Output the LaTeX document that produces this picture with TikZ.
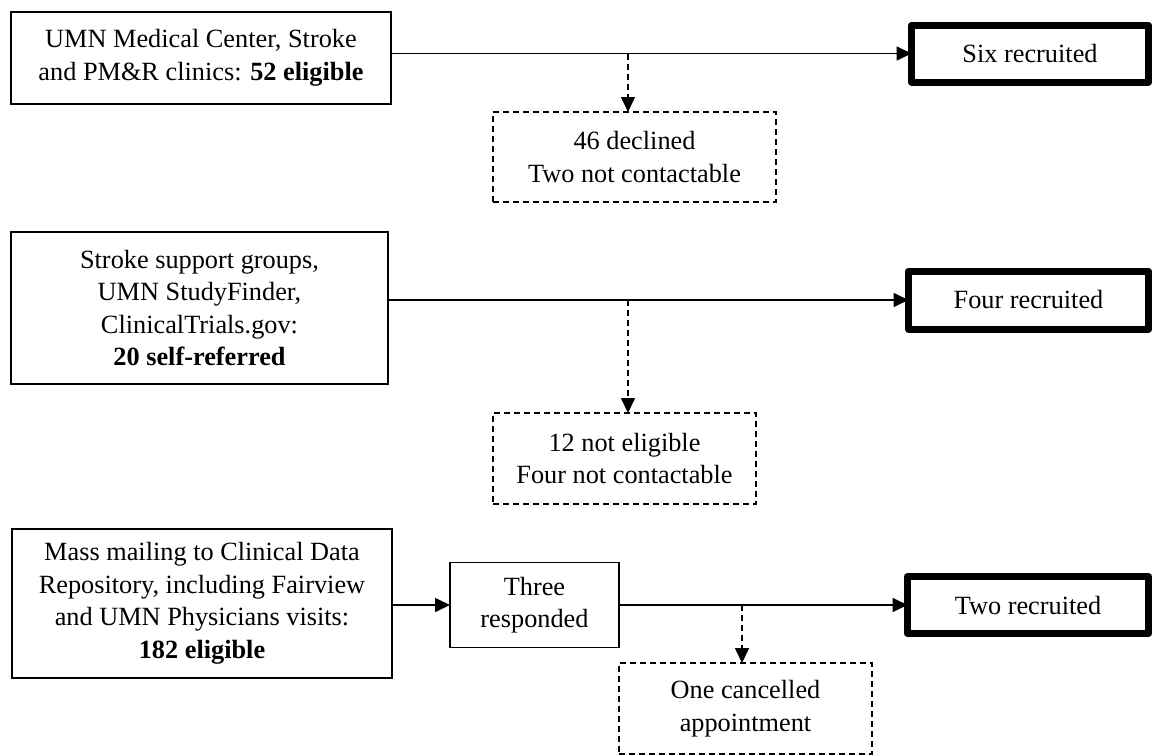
\documentclass[tikz,border=0pt]{standalone}
\usepackage{fontspec}
\setmainfont{Liberation Serif}
\usetikzlibrary{arrows.meta}
\tikzset{
  txt/.style={font=\fontsize{26.3}{32.5}\selectfont, align=center, inner sep=0pt, outer sep=0pt},
  solidbox/.style={txt, draw, line width=1.8pt},
  dashbox/.style={txt, draw, line width=1.6pt, dash pattern=on 6pt off 4pt},
  thickbox/.style={txt, draw, line width=7pt, line join=round},
  conn/.style={line width=1.7pt, -{Triangle[length=15pt,width=14pt]}},
  dconn/.style={line width=1.6pt, dash pattern=on 6pt off 4pt, -{Triangle[length=15pt,width=14pt]}},
}
\begin{document}
\begin{tikzpicture}[x=1pt, y=-1pt]
\useasboundingbox (0,0) rectangle (1152,755);

% row 1
\node[solidbox, minimum width=380pt, minimum height=92pt] (b1) at (201,58)
  {UMN Medical Center, Stroke\\and PM\&R clinics: \textbf{52 eligible}};
\node[thickbox, minimum width=237pt, minimum height=57pt] (r1) at (1030,53.5) {Six recruited};
\node[dashbox, minimum width=283pt, minimum height=90pt] (d1) at (634.5,157)
  {46 declined\\Two not contactable};

% row 2
\node[solidbox, minimum width=377pt, minimum height=152pt] (b2) at (199.5,308)
  {Stroke support groups,\\UMN StudyFinder,\\ClinicalTrials.gov:\\\textbf{20 self-referred}};
\node[thickbox, minimum width=240pt, minimum height=58pt] (r2) at (1028.5,300) {Four recruited};
\node[dashbox, minimum width=263pt, minimum height=91pt] (d2) at (624.5,458.5)
  {12 not eligible\\Four not contactable};

% row 3
\node[solidbox, minimum width=380pt, minimum height=149pt] (b3) at (202,603.5)
  {Mass mailing to Clinical Data\\Repository, including Fairview\\and UMN Physicians visits:\\\textbf{182 eligible}};
\node[solidbox, minimum width=169pt, minimum height=85pt] (t3) at (534.5,605)
  {Three\\responded};
\node[thickbox, minimum width=241pt, minimum height=57pt] (r3) at (1028,605) {Two recruited};
\node[dashbox, minimum width=253pt, minimum height=91pt] (d3) at (745.5,708.5)
  {One cancelled\\appointment};

% connectors
\draw[conn] (b1.east |- r1.west) -- (r1.west);
\coordinate (j1) at (628,53.5);
\draw[dconn] (j1) -- (j1 |- d1.north);

\draw[conn] (b2.east |- r2.west) -- (r2.west);
\coordinate (j2) at (628,300);
\draw[dconn] (j2) -- (j2 |- d2.north);

\draw[conn] (b3.east |- t3.west) -- (t3.west);
\draw[conn] (t3.east) -- (r3.west);
\coordinate (j3) at (742,605);
\draw[dconn] (j3) -- (j3 |- d3.north);
\end{tikzpicture}
\end{document}
